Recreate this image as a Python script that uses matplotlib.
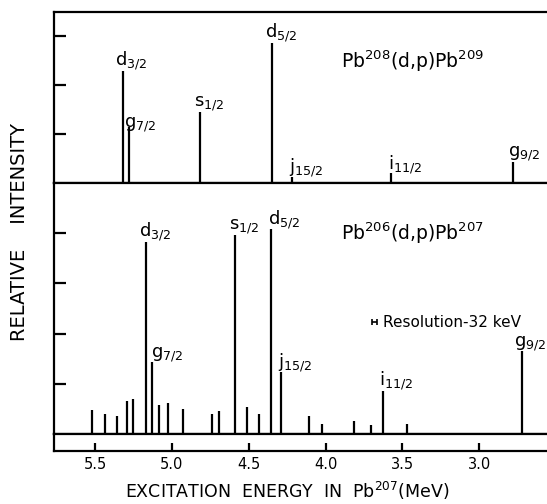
import matplotlib
matplotlib.use("Agg")
import matplotlib.pyplot as plt

# ───────────────────────────────────────────────────────────
# Level data (excitation energy in MeV, relative intensity)
# ───────────────────────────────────────────────────────────

# Pb208(d,p)Pb209 - single-particle levels
pb209_energy = [5.32, 5.278, 4.818, 4.352, 4.218, 3.577, 2.782]
pb209_height = [2.29, 1.15, 1.46, 2.86, 0.12, 0.20, 0.43]
pb209_labels = ["d3/2", "g7/2", "s1/2", "d5/2", "j15/2", "i11/2", "g9/2"]

# Pb206(d,p)Pb207 - all observed peaks
pb207_energy = [5.52, 5.437, 5.358, 5.291, 5.254, 5.168, 5.129, 5.081, 5.028,
                4.930, 4.736, 4.692, 4.591, 4.511, 4.431, 4.358, 4.293, 4.106,
                4.024, 3.814, 3.708, 3.626, 3.471, 2.720]
pb207_height = [0.48, 0.39, 0.35, 0.66, 0.70, 3.83, 1.43, 0.58, 0.61,
                0.49, 0.39, 0.45, 3.97, 0.54, 0.40, 4.08, 1.23, 0.35,
                0.19, 0.25, 0.17, 0.85, 0.20, 1.65]
# labelled peaks: (energy, label)
pb207_labelled = [(5.168, "d3/2"), (5.129, "g7/2"), (4.591, "s1/2"),
                  (4.358, "d5/2"), (4.293, "j15/2"), (3.626, "i11/2"),
                  (2.720, "g9/2")]

energy_ticks = [5.5, 5.0, 4.5, 4.0, 3.5, 3.0]
resolution_mev = 0.032

XLIM = (5.767, 2.56)
LW = 1.6
LEVEL_FS = 13


def level_label(name):
    letter, frac = name[0], name[1:]
    return letter + r"$_{\mathregular{" + frac + "}}$"


def style_panel(ax, ymax, yticks):
    ax.set_xlim(*XLIM)
    ax.set_ylim(0, ymax)
    ax.set_xticks([])
    ax.set_yticks(yticks)
    ax.set_yticklabels([])
    ax.tick_params(axis="y", direction="in", length=8.5, width=LW)
    for side in ("left", "top", "bottom"):
        ax.spines[side].set_linewidth(LW)
    ax.spines["right"].set_visible(False)


fig = plt.figure(figsize=(5.47, 5.04), dpi=100)
plt.rcParams["font.family"] = ["DejaVu Sans"]

ax_top = fig.add_axes([0.0987, 0.6369, 0.9013, 0.3399])
ax_bot = fig.add_axes([0.0987, 0.1389, 0.9013, 0.4980])
ax_scale = fig.add_axes([0.0987, 0.1052, 0.9013, 0.0337])

# upper spectrum
style_panel(ax_top, 3.5, [1, 2, 3])
ax_top.vlines(pb209_energy, 0, pb209_height, color="black", lw=LW)
label_offsets_top = {"d3/2": (-0.05, -0.03), "g7/2": (-0.035, -0.15), "s1/2": (-0.035, -0.03),
                     "d5/2": (-0.045, -0.03), "j15/2": (-0.02, -0.03), "i11/2": (-0.02, -0.05),
                     "g9/2": (-0.03, -0.03)}
for e, h, name in zip(pb209_energy, pb209_height, pb209_labels):
    dx, dy = label_offsets_top[name]
    ax_top.text(e - dx, h + dy, level_label(name), fontsize=LEVEL_FS,
                ha="left", va="bottom")
ax_top.text(3.9, 2.48, r"Pb$^{\mathregular{208}}$(d,p)Pb$^{\mathregular{209}}$",
            fontsize=13.5, ha="left", va="center")

# lower spectrum
style_panel(ax_bot, 5.0, [1, 2, 3, 4])
ax_bot.vlines(pb207_energy, 0, pb207_height, color="black", lw=LW)
height_of = dict(zip(pb207_energy, pb207_height))
label_offsets_bot = {"d3/2": (-0.045, -0.03), "g7/2": (-0.01, -0.03), "s1/2": (-0.035, -0.03),
                     "d5/2": (-0.02, -0.03), "j15/2": (-0.02, -0.03), "i11/2": (-0.03, -0.02),
                     "g9/2": (-0.055, -0.03)}
for e, name in pb207_labelled:
    dx, dy = label_offsets_bot[name]
    ax_bot.text(e - dx, height_of[e] + dy, level_label(name), fontsize=LEVEL_FS,
                ha="left", va="bottom")
ax_bot.text(3.9, 4.0, r"Pb$^{\mathregular{206}}$(d,p)Pb$^{\mathregular{207}}$",
            fontsize=13.5, ha="left", va="center")

# energy resolution marker
res_center = 3.68
ax_bot.errorbar(res_center, 2.23, xerr=resolution_mev / 2, fmt="none",
                ecolor="black", elinewidth=1.2, capsize=2, capthick=1.2)
ax_bot.text(res_center - 0.055, 2.23, "Resolution-32 keV", fontsize=11,
            ha="left", va="center")

# energy scale strip
ax_scale.set_xlim(*XLIM)
ax_scale.set_ylim(0, 1)
ax_scale.set_yticks([])
ax_scale.set_xticks(energy_ticks)
ax_scale.set_xticklabels([f"{t:.1f}" for t in energy_ticks], fontsize=10.5)
ax_scale.tick_params(axis="x", direction="in", length=6, width=LW, pad=4)
for side in ("left", "top", "bottom"):
    ax_scale.spines[side].set_linewidth(LW)
ax_scale.spines["right"].set_visible(False)

fig.text(0.525, 0.026, r"EXCITATION  ENERGY  IN  Pb$^{\mathregular{207}}$(MeV)",
         fontsize=12.5, ha="center", va="center")
fig.text(0.036, 0.54, "RELATIVE    INTENSITY", fontsize=14, rotation=90,
         ha="center", va="center")

fig.savefig("out.png", dpi=100)
